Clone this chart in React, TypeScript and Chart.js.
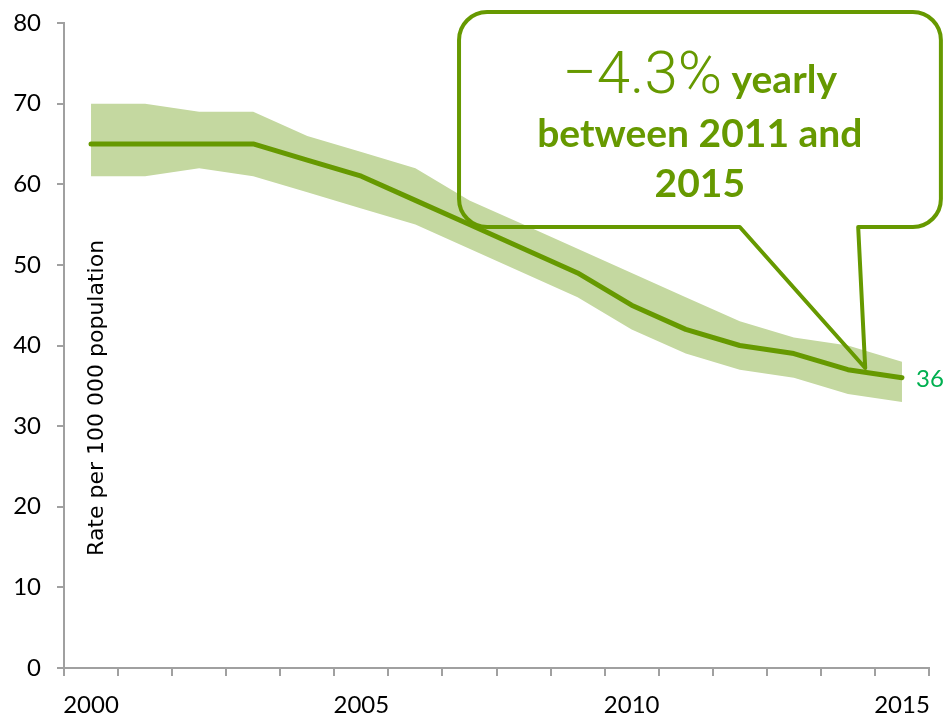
import React, { useEffect, useRef } from 'react';
import { Chart, registerables } from 'chart.js';

Chart.register(...registerables);

// ---- data ----
const years = ['2000', '2001', '2002', '2003', '2004', '2005', '2006', '2007', '2008', '2009', '2010', '2011', '2012', '2013', '2014', '2015'];
const rate = [65, 65, 65, 65, 63, 61, 58, 55, 52, 49, 45, 42, 40, 39, 37, 36];
const upper = [70, 70, 69, 69, 66, 64, 62, 58, 55, 52, 49, 46, 43, 41, 40, 38];
const lower = [61, 61, 62, 61, 59, 57, 55, 52, 49, 46, 42, 39, 37, 36, 34, 33];
const labelledYears = ['2000', '2005', '2010', '2015'];
const yMin = 0;
const yMax = 80;
const yStep = 10;
const axisTitle = 'Rate per 100 000 population';
const endLabel = '36';
const calloutBig = '\u22124.3%';
const calloutLine1Rest = 'yearly';
const calloutLine2 = 'between 2011 and';
const calloutLine3 = '2015';

const GREEN = '#669900';
const BAND = '#c4d8a0';
const LABEL_GREEN = '#00b050';
const AXIS = '#a0a0a0';

const overlayPlugin = {
  id: 'overlay',
  afterDatasetsDraw(chart: any) {
    const { ctx } = chart;
    const meta = chart.getDatasetMeta(0);
    const last = meta.data[meta.data.length - 1];
    ctx.save();
    ctx.fillStyle = LABEL_GREEN;
    ctx.font = '24px Lato';
    ctx.textAlign = 'left';
    ctx.textBaseline = 'middle';
    ctx.fillText(endLabel, last.x + 14, last.y + 2);
    ctx.restore();
  },
  afterDraw(chart: any) {
    const { ctx, scales } = chart;
    const x = scales.x;
    const y = scales.y;
    const X = (i: number) => x.getPixelForValue(i);
    const Y = (v: number) => y.getPixelForValue(v);

    // axis title inside plot
    ctx.save();
    ctx.translate(X(0) + 6, Y(33.5));
    ctx.rotate(-Math.PI / 2);
    ctx.fillStyle = '#000';
    ctx.font = '22px "DejaVu Sans"';
    ctx.textAlign = 'center';
    ctx.textBaseline = 'middle';
    ctx.fillText(axisTitle, 0, 0);
    ctx.restore();

    // callout box
    const L = X(6.807), R = X(15.72), T = Y(81.36), B = Y(54.7);
    const r = 28;
    const baseL = X(12.0), baseR = X(14.19);
    const tipX = X(14.32), tipY = Y(37.21);
    ctx.save();
    ctx.strokeStyle = GREEN;
    ctx.lineWidth = 4;
    ctx.lineJoin = 'round';
    ctx.beginPath();
    ctx.moveTo(L + r, T);
    ctx.lineTo(R - r, T);
    ctx.arcTo(R, T, R, T + r, r);
    ctx.lineTo(R, B - r);
    ctx.arcTo(R, B, R - r, B, r);
    ctx.lineTo(baseR, B);
    ctx.lineTo(tipX, tipY);
    ctx.lineTo(baseL, B);
    ctx.lineTo(L + r, B);
    ctx.arcTo(L, B, L, B - r, r);
    ctx.lineTo(L, T + r);
    ctx.arcTo(L, T, L + r, T, r);
    ctx.closePath();
    ctx.stroke();

    // callout text
    const cx = X(11.26);
    ctx.fillStyle = GREEN;
    ctx.textBaseline = 'alphabetic';
    const bigFont = '300 60px Roboto';
    const boldFont = 'bold 39px Lato';
    ctx.font = bigFont;
    const wBig = ctx.measureText(calloutBig).width;
    ctx.font = boldFont;
    const wSpace = ctx.measureText(' ').width;
    const wRest = ctx.measureText(calloutLine1Rest).width;
    const total = wBig + wSpace + wRest;
    const sx = cx - total / 2;
    const b1 = Y(71.3);
    ctx.textAlign = 'left';
    ctx.font = bigFont;
    ctx.fillText(calloutBig, sx, b1);
    ctx.font = boldFont;
    ctx.fillText(calloutLine1Rest, sx + wBig + wSpace, b1);
    ctx.textAlign = 'center';
    ctx.fillText(calloutLine2, cx, Y(64.6));
    ctx.fillText(calloutLine3, cx, Y(58.4));
    ctx.restore();
  },
};

export default function App() {
  const ref = useRef<HTMLCanvasElement>(null);

  useEffect(() => {
    if (!ref.current) return;
    const chart = new Chart(ref.current, {
      type: 'line',
      data: {
        labels: years,
        datasets: [
          {
            data: rate,
            borderColor: GREEN,
            borderWidth: 5,
            pointRadius: 0,
            fill: false,
            tension: 0,
            borderCapStyle: 'round',
            borderJoinStyle: 'round',
          },
          {
            data: lower,
            borderColor: 'rgba(0,0,0,0)',
            borderWidth: 0,
            pointRadius: 0,
            fill: false,
          },
          {
            data: upper,
            borderColor: 'rgba(0,0,0,0)',
            borderWidth: 0,
            pointRadius: 0,
            backgroundColor: BAND,
            fill: '-1',
          },
        ],
      },
      options: {
        responsive: false,
        animation: false,
        devicePixelRatio: 1,
        layout: { padding: { top: 23, right: 15, left: 0, bottom: 0 } },
        plugins: {
          legend: { display: false },
          tooltip: { enabled: false },
        },
        scales: {
          x: {
            type: 'category',
            offset: true,
            afterFit: (s: any) => { s.height = 46; s.paddingLeft = 0; s.paddingRight = 0; },
            grid: {
              offset: true,
              drawOnChartArea: false,
              drawTicks: true,
              tickLength: 8,
              color: AXIS,
              lineWidth: 2,
            },
            border: { display: true, color: AXIS, width: 2 },
            ticks: {
              autoSkip: false,
              maxRotation: 0,
              minRotation: 0,
              padding: 15,
              color: '#000',
              font: { family: 'Lato', size: 24 },
              callback: (_v: any, idx: number) => (labelledYears.includes(years[idx]) ? years[idx] : ''),
            },
          },
          y: {
            min: yMin,
            max: yMax,
            afterFit: (s: any) => { s.width = 64; s.paddingTop = 0; s.paddingBottom = 0; },
            grid: {
              drawOnChartArea: false,
              drawTicks: true,
              tickLength: 7,
              color: AXIS,
              lineWidth: 2,
            },
            border: { display: true, color: AXIS, width: 2 },
            ticks: {
              stepSize: yStep,
              padding: 16,
              color: '#000',
              font: { family: 'Lato', size: 24 },
            },
          },
        },
      },
      plugins: [overlayPlugin],
    } as any);
    return () => chart.destroy();
  }, []);

  return (
    <div style={{ position: 'fixed', left: 0, top: 0, width: 944, height: 714, background: '#fff' }}>
      <canvas ref={ref} width={944} height={714} style={{ display: 'block', width: 944, height: 714 }} />
    </div>
  );
}
